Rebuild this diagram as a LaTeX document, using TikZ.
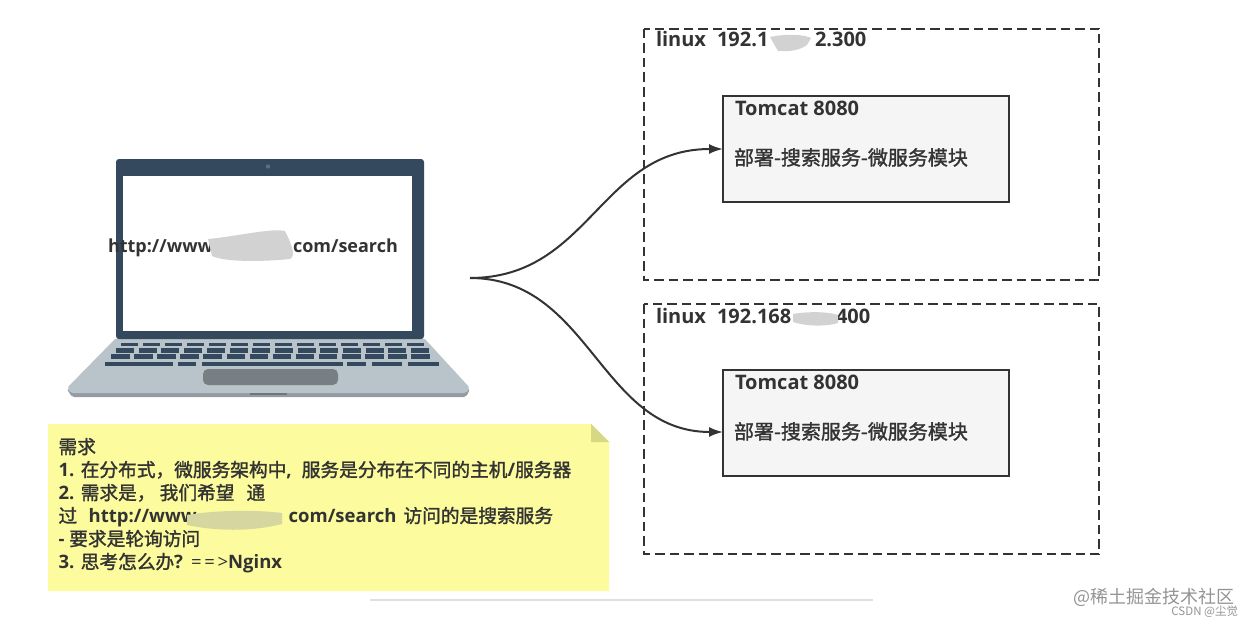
\documentclass[tikz,border=0pt]{standalone}
\usepackage{fontspec}
\setmainfont{Open Sans}
\newfontfamily\cj{Noto Sans CJK SC}[FakeBold=1.5]
\newfontfamily\wmfont{Noto Sans CJK SC}
\usetikzlibrary{arrows.meta}
\definecolor{ink}{HTML}{333333}
\definecolor{navy}{HTML}{34495E}
\definecolor{deck}{HTML}{B9C3CA}
\definecolor{notey}{HTML}{FCFB9D}
\definecolor{foldc}{HTML}{D8D784}
\definecolor{smear}{HTML}{D2D2D2}
\definecolor{notesmear}{HTML}{D6D6A0}
\newcommand{\nl}[1]{{\normalfont\bfseries\fontsize{18.5}{22.9}\selectfont #1}}
\tikzset{
  every node/.style={inner sep=0pt,outer sep=0pt,text=ink},
  hostbox/.style={draw=ink,line width=2pt,dash pattern=on 9.5pt off 5pt},
  svcbox/.style={draw=ink,line width=2pt,fill=black!4,minimum width=286pt,minimum height=106pt},
  lbl/.style={anchor=base west,font=\bfseries\fontsize{20}{24}\selectfont},
  urllbl/.style={anchor=base west,font=\bfseries\fontsize{18}{22}\selectfont},
  zhlbl/.style={anchor=base west,font=\cj\fontsize{20}{24}\selectfont},
  link/.style={draw=ink,line width=2pt,-{Latex[length=14pt,width=10pt]}},
  keycap/.style={fill=navy}
}
\begin{document}
\begin{tikzpicture}[x=1pt,y=-1pt]
\useasboundingbox (0,0) rectangle (1253,626);
\fill[white] (0,0) rectangle (1253,626);
% laptop base
\fill[black!20!deck,rounded corners=2pt] (67,389) -- (470,389) -- (466,397) -- (72,397) -- cycle;
\fill[deck,rounded corners=2pt] (116,338) -- (424,338) -- (470,388) -- (466,393) -- (71,393) -- (67,388) -- cycle;
\fill[black!40!deck] (250,393) rectangle (287,395);
\fill[navy,rounded corners=3pt] (116,159) rectangle (424,339);
\fill[white] (123,176) rectangle (412,331);
\fill[navy!80!white] (268,166.5) circle (2.2pt);
\fill[black!35!deck,rounded corners=5pt] (203,369) rectangle (338,385);
% keys
\foreach \i in {0,...,13} {
  \fill[keycap] ({121+\i*22},342.7) rectangle ({121+\i*22+16.5},346);
  \fill[keycap] ({116+\i*22.7},348) rectangle ({116+\i*22.7+18},352.5);
  \fill[keycap] ({111+\i*23.1},354) rectangle ({111+\i*23.1+18.5},358.5);
}
\foreach \a/\b in {105/173,178/196,202/343,347/366,372/402,408/439}
  \fill[keycap] (\a,361.7) rectangle (\b,366.3);
% url
\node[urllbl] (url1) at (108,252) {http://www};
\node[urllbl] (url2) at (293,252) {com/search};
\fill[smear] (208,239) .. controls (240,236) and (270,228) .. (285,231) .. controls (292,245) and (296,256) .. (290,259) .. controls (260,262) and (225,262) .. (212,256) -- cycle;
% note
\fill[notey] (48,424) -- (591,424) -- (609,442) -- (609,591) -- (48,591) -- cycle;
\fill[foldc] (591,424) -- (609,442) -- (591,442) -- cycle;
\node[anchor=north west,align=left,font=\cj\fontsize{18.7}{23}\selectfont] (note) at (58.5,438) {需求\\
\nl{1. }在分布式，微服务架构中\nl{,}\hspace{10pt}服务是分布在不同的主机\nl{/}服务器\\
\nl{2. }需求是， 我们希望\hspace{12pt}通\\
过\hspace{11.5pt}\nl{http://www}\hspace{92pt}\nl{com/search}\hspace{7pt}访问的是搜索服务\\
\nl{- }要求是轮询访问\\
\nl{3. }思考怎么办\nl{?}\hspace{8pt}\nl{\mdseries =\hspace{2.7pt}=\hspace{2.7pt}>}\nl{Nginx}};
\fill[notesmear] (187,515) .. controls (210,511) and (250,509) .. (282,513) -- (282,524) .. controls (250,532) and (215,531) .. (187,525) -- cycle;
\draw[black!12,line width=1.2pt] (370,600) -- (873,600);
% hosts
\draw[hostbox] (644,29) rectangle (1099,280);
\draw[hostbox] (644,304) rectangle (1099,554);
\node[lbl] (h1a) at (656,47) {linux\hspace{0.55em}192.1};
\node[lbl] (h1b) at (815,47) {2.300};
\fill[smear] (770,37) .. controls (790,33) and (805,35) .. (811,38) -- (807,45) .. controls (800,50) and (790,52) .. (778,51) -- cycle;
\node[lbl] (h2a) at (656,323) {linux\hspace{0.55em}192.168};
\node[lbl] (h2b) at (836,323) {400};
\fill[smear] (793,314) .. controls (810,311) and (830,312) .. (838,315) -- (838,323) .. controls (825,327) and (805,326) .. (793,322) -- cycle;
% tomcat
\node[svcbox] (t1) at (866,149) {};
\node[svcbox] (t2) at (866,423) {};
\node[lbl] (t1a) at (735,115) {Tomcat 8080};
\node[zhlbl] (t1b) at (734,165) {部署-搜索服务-微服务模块};
\node[lbl] (t2a) at (735,389) {Tomcat 8080};
\node[zhlbl] (t2b) at (734,439) {部署-搜索服务-微服务模块};
% connectors
\coordinate (src) at (470,278);
\coordinate (t2in) at (723,432);
\draw[link] (src) .. controls (590,278) and (600,149) .. (t1.west);
\draw[link] (src) .. controls (590,278) and (600,432) .. (t2in);
% watermark
\node[anchor=base west,font=\wmfont\fontsize{18}{20}\selectfont,text=black!42] (wm1) at (1073,603) {@稀土掘金技术社区};
\node[anchor=base east,font=\wmfont\fontsize{11.5}{13}\selectfont,text=black!42] (wm2) at (1238,615) {CSDN @尘觉};
\end{tikzpicture}
\end{document}
